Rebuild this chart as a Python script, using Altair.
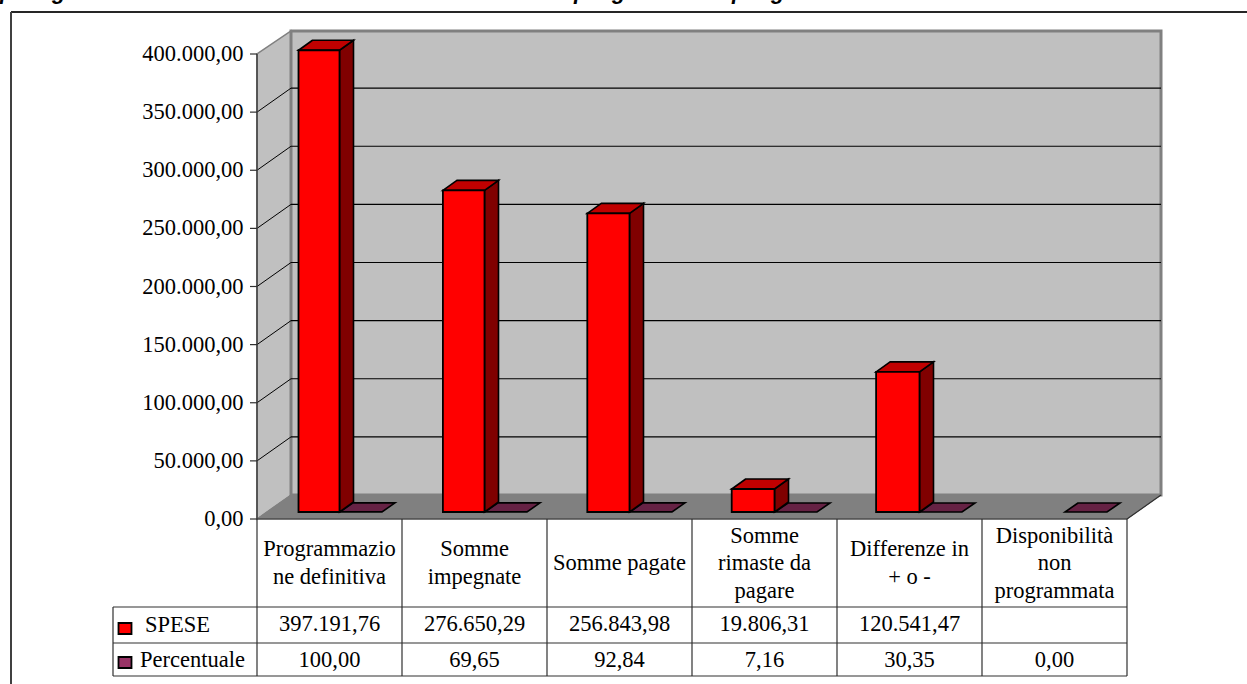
import altair as alt
import pandas as pd

# Table contents and series values
categories = [
    ["Programmazio", "ne definitiva"],
    ["Somme", "impegnate"],
    ["Somme pagate"],
    ["Somme", "rimaste da", "pagare"],
    ["Differenze in", "+ o -"],
    ["Disponibilità", "non", "programmata"],
]
spese = [397191.76, 276650.29, 256843.98, 19806.31, 120541.47, None]
percentuale = [100.00, 69.65, 92.84, 7.16, 30.35, 0.00]
series_names = ["SPESE", "Percentuale"]
axis_ticks = [0, 50000, 100000, 150000, 200000, 250000, 300000, 350000, 400000]
clipped_heading = [("p", 0), ("g", 52), ("p", 574), ("g", 612), ("p", 732), ("g", 771)]

W, H = 1247, 684
CELL = 145.0
X0, Y0 = 257.0, 519.0
PX_PER_TICK = 58.125
VALUE_PER_PX = 50000 / PX_PER_TICK
SERIF = "Liberation Serif"
TEXT_SIZE = 22.5


def ux(px):
    """Horizontal offset from the axis, in category cells."""
    return (px - X0) / CELL


def uy(py):
    """Height on the value scale of a vertical position."""
    return (Y0 - py) * VALUE_PER_PX


x_scale = alt.Scale(domain=[ux(0), ux(W)], range=[0, W], nice=False, zero=False)
y_scale = alt.Scale(domain=[uy(H), uy(0)], range=[H, 0], nice=False, zero=False)
X = alt.X("x:Q", scale=x_scale, axis=None)
Y = alt.Y("y:Q", scale=y_scale, axis=None)


def vertical_face(rows, gid, x0, x1, lo0, hi0, lo1, hi1):
    rows.append({"g": gid, "x": x0, "y": lo0, "y2": hi0})
    rows.append({"g": gid, "x": x1, "y": lo1, "y2": hi1})


def flat_face(rows, gid, y0, y1, l0, r0, l1, r1):
    rows.append({"g": gid, "y": y0, "x": l0, "x2": r0})
    rows.append({"g": gid, "y": y1, "x": l1, "x2": r1})


def side_layer(rows, fill, stroke, width):
    return alt.Chart(pd.DataFrame(rows)).mark_area(
        orient="vertical", fill=fill, stroke=stroke, strokeWidth=width, opacity=1
    ).encode(x=X, y=Y, y2="y2:Q", detail="g:N")


def flat_layer(rows, fill, stroke, width):
    return alt.Chart(pd.DataFrame(rows)).mark_area(
        orient="horizontal", fill=fill, stroke=stroke, strokeWidth=width, opacity=1
    ).encode(x=X, x2="x2:Q", y=Y, detail="g:N")


def segments(rows, color, width):
    return alt.Chart(pd.DataFrame(rows, columns=["x", "y", "x2", "y2"])).mark_rule(
        color=color, strokeWidth=width
    ).encode(x=X, y=Y, x2="x2:Q", y2="y2:Q")


def texts(rows, size=TEXT_SIZE, align="center", font=SERIF):
    return alt.Chart(pd.DataFrame(rows, columns=["x", "y", "t"])).mark_text(
        font=font, fontSize=size, align=align, baseline="middle", color="black"
    ).encode(x=X, y=Y, text="t:N")


def it_number(v):
    if v is None:
        return ""
    return f"{v:,.2f}".replace(",", "#").replace(".", ",").replace("#", ".")


# Box walls: depth offsets of the back plane
DX, DY = 34.0, 24.0
right = X0 + CELL * 6

back_wall = []
vertical_face(back_wall, "back", ux(X0 + DX), ux(right + DX), uy(Y0 - DY), uy(31), uy(Y0 - DY), uy(31))
left_wall = []
vertical_face(left_wall, "left", ux(X0), ux(X0 + DX), uy(Y0), uy(54), uy(Y0 - DY), uy(31))
floor = []
flat_face(floor, "floor", uy(Y0), uy(Y0 - DY), ux(X0), ux(right), ux(X0 + DX), ux(right + DX))

grid_back = []
grid_left = []
for tick in axis_ticks[1:-1]:
    grid_back.append([ux(X0 + DX), tick + uy(Y0 - DY), ux(right + DX), tick + uy(Y0 - DY)])
    grid_left.append([ux(X0), tick, ux(X0 + DX), tick + uy(Y0 - DY)])

# Value axis: ticks and labels on the front edge of the box
axis_tick_rows = [[ux(X0 - 7), t, ux(X0), t] for t in axis_ticks]
axis_label_rows = [[ux(243.5), t, it_number(t)] for t in axis_ticks]

# Bars: front, top and side faces for the first series, flat plates for the second
BASE = uy(512)
BD_X, BD_Y = 14.0, 10.0
front, top, side = [], [], []
for i, v in enumerate(spese):
    if v is None:
        continue
    left_px = 298.5 + 144.4 * i
    right_px = 339.5 + 145 * i
    vertical_face(front, i, ux(left_px), ux(right_px), BASE, BASE + v, BASE, BASE + v)
    vertical_face(side, i, ux(right_px), ux(right_px + BD_X), BASE, BASE + v,
                  BASE + uy(Y0 - BD_Y), BASE + v + uy(Y0 - BD_Y))
    flat_face(top, i, BASE + v, BASE + v + uy(Y0 - BD_Y), ux(left_px), ux(right_px),
              ux(left_px + BD_X), ux(right_px + BD_X))

plates = []
for i, v in enumerate(percentuale):
    l = 340 + 145 * i
    flat_face(plates, i, BASE + v, BASE + v + uy(Y0 - 9), ux(l), ux(l + 42), ux(l + 13), ux(l + 55))

# Data table under the plot
row_lines = [607, 643, 676]
table_h = [[ux(X0), uy(Y0), ux(right), uy(Y0)]]
table_h += [[ux(113), uy(p), ux(right), uy(p)] for p in row_lines]
table_v = [[ux(113), uy(607), ux(113), uy(676)]]
table_v += [[float(k), uy(Y0), float(k), uy(676)] for k in range(7)]

header_rows = []
for i, lines in enumerate(categories):
    for j, line in enumerate(lines):
        header_rows.append([i + 0.5, uy(563 + (j - (len(lines) - 1) / 2) * 27.5), line])

value_rows = []
for i in range(6):
    value_rows.append([i + 0.5, uy(624), it_number(spese[i])])
    value_rows.append([i + 0.5, uy(660), it_number(percentuale[i])])

legend_rows = [[ux(145), uy(625), series_names[0]], [ux(140), uy(660), series_names[1]]]

sw_red, sw_purple = [], []
vertical_face(sw_red, "a", ux(118.5), ux(131.5), uy(634), uy(623), uy(634), uy(623))
vertical_face(sw_purple, "b", ux(118.5), ux(131.5), uy(668), uy(657), uy(668), uy(657))

heading = alt.Chart(pd.DataFrame(
    [{"x": ux(px), "y": uy(-1.5), "t": s} for s, px in clipped_heading]
)).mark_text(
    font="Liberation Sans", fontSize=22, fontWeight="bold", fontStyle="italic",
    align="left", baseline="alphabetic", color="black",
).encode(x=X, y=Y, text="t:N")

frame_top = segments([[ux(11), uy(12), ux(W), uy(12)]], "#262626", 2)
frame_left = segments([[ux(11), uy(12), ux(11), uy(H)]], "#404040", 2)

chart = alt.layer(
    frame_top,
    frame_left,
    heading,
    side_layer(left_wall, "#c0c0c0", "#808080", 1.5),
    side_layer(back_wall, "#c0c0c0", "#808080", 3),
    flat_layer(floor, "#808080", "#808080", 1),
    segments(grid_back, "black", 1.2),
    segments(grid_left, "black", 1),
    segments([[ux(X0), uy(54), ux(X0), uy(Y0)]], "#404040", 1.5),
    segments([[ux(right), uy(Y0), ux(right + DX), uy(Y0 - DY)]], "#303030", 1.2),
    segments(axis_tick_rows, "#303030", 1.2),
    flat_layer(plates, "#662244", "black", 1.6),
    side_layer(side, "#800000", "black", 1.6),
    flat_layer(top, "#c00000", "black", 1.6),
    side_layer(front, "#ff0000", "black", 1.8),
    segments(table_h, "#303030", 1.2),
    segments(table_v, "#303030", 1.2),
    side_layer(sw_red, "#ff0000", "black", 1.8),
    side_layer(sw_purple, "#993366", "black", 1.8),
    texts(axis_label_rows, align="right"),
    texts(header_rows),
    texts(value_rows),
    texts(legend_rows, align="left"),
).properties(
    width=W,
    height=H,
    padding=0,
    autosize=alt.AutoSizeParams(type="none"),
    background="white",
).configure_view(stroke=None)

chart.save("out.html", embed_options={"renderer": "svg", "actions": False})
